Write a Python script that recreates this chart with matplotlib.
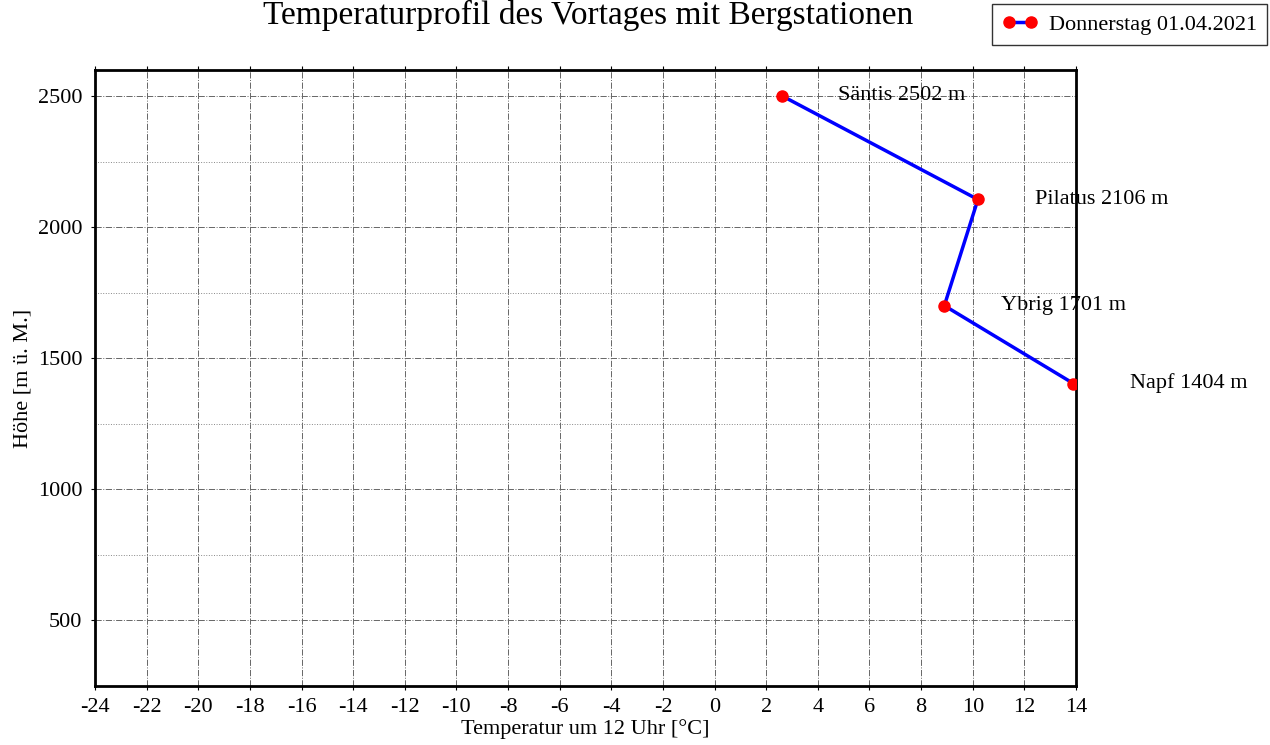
import matplotlib.pyplot as plt
from matplotlib.ticker import MultipleLocator

# Daten
stationen = ['Säntis 2502 m', 'Pilatus 2106 m', 'Ybrig 1701 m', 'Napf 1404 m']
hoehe = [2502, 2106, 1701, 1404]
temperatur = [2.6, 10.2, 8.9, 13.9]
x_ticks = list(range(-24, 15, 2))
y_ticks = [500, 1000, 1500, 2000, 2500]


def main():
    plt.rcParams['font.family'] = ['Liberation Serif', 'DejaVu Serif']
    plt.rcParams['axes.unicode_minus'] = False
    fig = plt.figure(figsize=(12.7, 7.45), dpi=100)
    ax = fig.add_axes([95 / 1270, 1 - 686 / 745, 981 / 1270, 616 / 745])

    ax.plot(temperatur, hoehe, color='blue', lw=2.5, marker='o',
            markersize=8, markerfacecolor='red', markeredgecolor='red',
            label='Donnerstag 01.04.2021', zorder=3)
    for t, h, name in zip(temperatur, hoehe, stationen):
        ax.text(t + 2.2, h, name, fontsize=16, va='center', ha='left',
                clip_on=False)

    ax.set_xlim(-24, 14)
    ax.set_ylim(250, 2600)
    ax.set_xticks(x_ticks)
    ax.set_yticks(y_ticks)
    ax.yaxis.set_minor_locator(MultipleLocator(250))
    ax.tick_params(axis='both', which='major', labelsize=16, direction='out',
                   length=3, width=0.8, top=True, pad=6)
    ax.tick_params(axis='y', which='minor', length=0)
    ax.grid(True, which='major', ls='-.', lw=0.7, color='#666666')
    ax.grid(True, which='minor', axis='y', ls=':', lw=0.7, color='#888888')
    for s in ax.spines.values():
        s.set_linewidth(2)

    ax.set_xlabel('Temperatur um 12 Uhr [°C]', fontsize=16, labelpad=1)
    ax.set_ylabel('Höhe [m ü. M.]', fontsize=16, labelpad=4)
    fig.text(0.463, 1.0, 'Temperaturprofil des Vortages mit Bergstationen',
             fontsize=24, ha='center', va='top')

    ax.legend(loc='upper right', bbox_to_anchor=(1267 / 1270, 1 - 4 / 745),
              bbox_transform=fig.transFigure, fontsize=16, fancybox=False,
              edgecolor='#333333', framealpha=1, handlelength=1.6,
              numpoints=2, borderpad=0.45, borderaxespad=0,
              handletextpad=0.5, shadow=False)

    fig.savefig('out.png', dpi=100)


main()
